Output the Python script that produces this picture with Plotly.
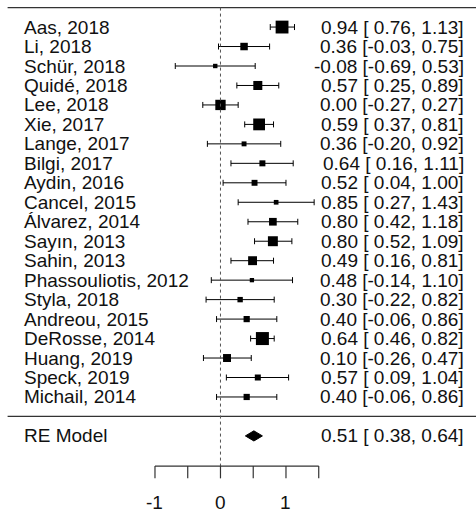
import plotly.graph_objects as go

# Study-level estimates with 95% confidence intervals
studies = ["Aas, 2018", "Li, 2018", "Schür, 2018", "Quidé, 2018", "Lee, 2018",
           "Xie, 2017", "Lange, 2017", "Bilgi, 2017", "Aydin, 2016", "Cancel, 2015",
           "Álvarez, 2014", "Sayın, 2013", "Sahin, 2013", "Phassouliotis, 2012",
           "Styla, 2018", "Andreou, 2015", "DeRosse, 2014", "Huang, 2019",
           "Speck, 2019", "Michail, 2014"]
est = [0.94, 0.36, -0.08, 0.57, 0.00, 0.59, 0.36, 0.64, 0.52, 0.85,
       0.80, 0.80, 0.49, 0.48, 0.30, 0.40, 0.64, 0.10, 0.57, 0.40]
lower = [0.76, -0.03, -0.69, 0.25, -0.27, 0.37, -0.20, 0.16, 0.04, 0.27,
         0.42, 0.52, 0.16, -0.14, -0.22, -0.06, 0.46, -0.26, 0.09, -0.06]
upper = [1.13, 0.75, 0.53, 0.89, 0.27, 0.81, 0.92, 1.11, 1.00, 1.43,
         1.18, 1.09, 0.81, 1.10, 0.82, 0.86, 0.82, 0.47, 1.04, 0.86]

# Random-effects summary
model_label = "RE Model"
model_est, model_lower, model_upper = 0.51, 0.38, 0.64
tau2 = 0.03

# Axis ticks
tick_vals = [-1, -0.5, 0, 0.5, 1, 1.5]
tick_text = {-1: "-1", 0: "0", 1: "1"}

k = len(studies)
rows = list(range(k, 0, -1))
model_row = -1
axis_y = -2.55

# Square size from random-effects weights (1 / (vi + tau2))
se = [(u - l) / 3.92 for l, u in zip(lower, upper)]
w = [1 / (s ** 2 + tau2) for s in se]
wmin, wmax = min(w), max(w)
sizes = [4.3 + (wi - wmin) / (wmax - wmin) * (13 - 4.3) for wi in w]


def ci_text(e, l, u):
    def pad(v):
        return f"{v:.2f}" if v < 0 else f" {v:.2f}"
    return f"{e:.2f} [{pad(l)}, {u:.2f}]"


fig = go.Figure()

fig.add_trace(go.Scatter(
    x=est, y=rows, mode="markers",
    marker=dict(symbol="square", size=sizes, color="black", opacity=1,
                line=dict(width=0)),
    error_x=dict(type="data", symmetric=False,
                 array=[u - e for e, u in zip(est, upper)],
                 arrayminus=[e - l for e, l in zip(est, lower)],
                 color="black", thickness=1, width=3),
    hoverinfo="skip", showlegend=False,
))

# Summary diamond
h = 0.26
fig.add_trace(go.Scatter(
    x=[model_lower, model_est, model_upper, model_est, model_lower],
    y=[model_row, model_row + h, model_row, model_row - h, model_row],
    mode="lines", fill="toself", fillcolor="black",
    line=dict(color="black", width=1), hoverinfo="skip", showlegend=False,
))

shapes = []
line_col = "#333333"
# top rule and separator
for yy in (k + 1, 0):
    shapes.append(dict(type="line", xref="x", yref="y", x0=-3.25, x1=3.92,
                       y0=yy, y1=yy, line=dict(color=line_col, width=1.2)))
# reference line at zero
shapes.append(dict(type="line", xref="x", yref="y", x0=0, x1=0,
                   y0=k + 1, y1=axis_y,
                   line=dict(color="#555555", width=1, dash="dot")))
# x axis
shapes.append(dict(type="line", xref="x", yref="y", x0=tick_vals[0], x1=tick_vals[-1],
                   y0=axis_y, y1=axis_y, line=dict(color=line_col, width=1.2)))
for t in tick_vals:
    shapes.append(dict(type="line", xref="x", yref="y", x0=t, x1=t,
                       y0=axis_y, y1=axis_y - 0.63, line=dict(color=line_col, width=1.2)))

font = dict(family="Liberation Sans, Arial, sans-serif", size=19, color="#111111")
ann = []
for name, r, e, l, u in zip(studies, rows, est, lower, upper):
    ann.append(dict(x=-3.03, y=r, xref="x", yref="y", text=name, showarrow=False,
                    xanchor="left", yanchor="middle", font=font))
    ann.append(dict(x=3.748, y=r, xref="x", yref="y", text=ci_text(e, l, u),
                    showarrow=False, xanchor="right", yanchor="middle", font=font))
ann.append(dict(x=-3.03, y=model_row, xref="x", yref="y", text=model_label,
                showarrow=False, xanchor="left", yanchor="middle", font=font))
ann.append(dict(x=3.748, y=model_row, xref="x", yref="y",
                text=ci_text(model_est, model_lower, model_upper),
                showarrow=False, xanchor="right", yanchor="middle", font=font))
for t, lab in tick_text.items():
    ann.append(dict(x=t, y=-4.44, xref="x", yref="y", text=lab, showarrow=False,
                    xanchor="center", yanchor="middle", font=font))

fig.update_layout(
    width=476, height=513,
    margin=dict(l=0, r=0, t=0, b=0),
    paper_bgcolor="white", plot_bgcolor="white",
    xaxis=dict(range=[-3.366, 3.901], visible=False, fixedrange=True),
    yaxis=dict(range=[-4.96, 21.39], visible=False, fixedrange=True),
    shapes=shapes, annotations=ann,
)

fig.write_html("out.html")
